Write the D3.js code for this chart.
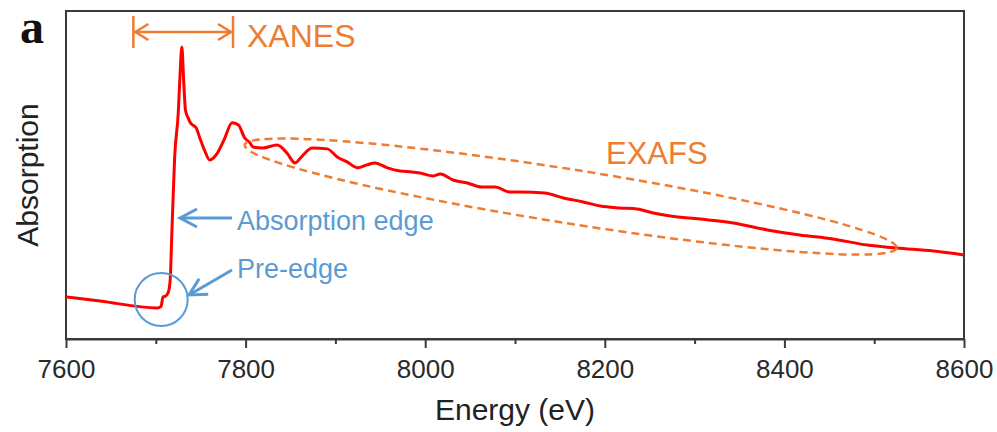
<!DOCTYPE html>
<html>
<head>
<meta charset="utf-8">
<script src="https://cdn.jsdelivr.net/npm/d3@7"></script>
<style>
  body { margin: 0; background: #fff; }
  svg { display: block; font-family: "Liberation Sans", Arial, sans-serif; }
</style>
</head>
<body>
<svg id="chart" width="997" height="432"></svg>
<script>
// X-ray absorption spectrum (energy in eV, normalised absorption)
const energy = [7600, 7638, 7701, 7705, 7706, 7708, 7711, 7714, 7716, 7718, 7721, 7725, 7727, 7729,
  7731, 7733, 7736, 7738, 7741, 7745, 7749, 7755, 7760, 7768, 7776, 7785, 7792, 7799, 7805, 7808,
  7819, 7835, 7846, 7855, 7864, 7874, 7891, 7902, 7913, 7925, 7935, 7944, 7958, 7972, 7985, 7994,
  8009, 8017, 8031, 8047, 8063, 8078, 8094, 8106, 8133, 8154, 8176, 8195, 8217, 8236, 8254, 8273,
  8306, 8343, 8381, 8417, 8454, 8492, 8525, 8566, 8600];
const absorption = [0.288, 0.261, 0.214, 0.221, 0.227, 0.288, 0.294, 0.321, 0.401, 0.736, 1.224, 1.518, 1.773, 1.960,
  1.739, 1.538, 1.485, 1.458, 1.438, 1.418, 1.351, 1.258, 1.204, 1.244, 1.338, 1.452, 1.438, 1.351, 1.318, 1.291,
  1.284, 1.304, 1.251, 1.184, 1.237, 1.284, 1.278, 1.224, 1.191, 1.151, 1.171, 1.184, 1.151, 1.130, 1.124, 1.117,
  1.097, 1.110, 1.070, 1.050, 1.023, 1.023, 0.990, 0.990, 0.983, 0.950, 0.923, 0.896, 0.883, 0.876, 0.849, 0.829,
  0.809, 0.783, 0.736, 0.702, 0.676, 0.635, 0.615, 0.595, 0.569];

const majorTicks = [7600, 7800, 8000, 8200, 8400, 8600];
const minorTicks = [7700, 7900, 8100, 8300, 8500];

// Annotation anchors in data units
const xanesRange = [7675, 7786];
const exafsEnds = [[7799, 1.304], [8525, 0.615]];
const preEdgeCenter = [7706, 0.271];

const ORANGE = "#ED7D31";
const BLUE = "#5B9BD5";

const svg = d3.select("#chart");
const plotL = 66, plotR = 964, plotT = 11, plotB = 339;

const x = d3.scaleLinear().domain([7600, 8600]).range([plotL, plotR]);
const y = d3.scaleLinear().domain([0, 2.2]).range([340, plotT]);

// Frame
svg.append("rect")
  .attr("x", plotL).attr("y", plotT)
  .attr("width", plotR - plotL).attr("height", plotB - plotT)
  .attr("fill", "none").attr("stroke", "#3a3a3a").attr("stroke-width", 2);

// Bottom axis: major ticks with labels, minor ticks without
const axisG = svg.append("g").attr("transform", `translate(0,${plotB})`);
axisG.call(d3.axisBottom(x).tickValues(majorTicks).tickSize(9).tickSizeOuter(0).tickFormat(d3.format("d")))
  .call(g => g.attr("font-family", null).attr("font-size", null))
  .call(g => g.select(".domain").attr("stroke", "#3a3a3a").attr("stroke-width", 2))
  .call(g => g.selectAll(".tick line").attr("stroke", "#3a3a3a").attr("stroke-width", 2))
  .call(g => g.selectAll(".tick text")
    .style("font-size", "26px").attr("fill", "#2a2a2a").attr("dy", "0.71em").attr("y", 21));
svg.append("g").attr("transform", `translate(0,${plotB})`)
  .call(d3.axisBottom(x).tickValues(minorTicks).tickSize(5).tickFormat(""))
  .call(g => g.select(".domain").remove())
  .call(g => g.selectAll(".tick line").attr("stroke", "#3a3a3a").attr("stroke-width", 2));

// Axis titles
svg.append("text").attr("x", (plotL + plotR) / 2).attr("y", 420)
  .attr("text-anchor", "middle").style("font-size", "30px").attr("fill", "#222")
  .text("Energy (eV)");
svg.append("text").attr("transform", `translate(38,${(plotT + plotB) / 2}) rotate(-90)`)
  .attr("text-anchor", "middle").style("font-size", "30px").attr("fill", "#222")
  .text("Absorption");

// Panel letter
svg.append("text").attr("x", 20).attr("y", 43)
  .style("font-family", "'Liberation Serif', 'Times New Roman', serif")
  .style("font-weight", "bold").style("font-size", "48px").attr("fill", "#111")
  .text("a");

// Spectrum
const data = energy.map((e, i) => [e, absorption[i]]);
svg.append("path").datum(data)
  .attr("fill", "none").attr("stroke", "#ff0000").attr("stroke-width", 3)
  .attr("stroke-linejoin", "round")
  .attr("d", d3.line().x(d => x(d[0])).y(d => y(d[1])).curve(d3.curveMonotoneX));

// Chevron arrow head: tip at (tx,ty), pointing along angle (radians)
function chevron(g, tx, ty, ang, len, half, color, w) {
  const bx = tx - Math.cos(ang) * len, by = ty - Math.sin(ang) * len;
  const px = -Math.sin(ang) * half, py = Math.cos(ang) * half;
  g.append("polyline")
    .attr("points", `${bx + px},${by + py} ${tx},${ty} ${bx - px},${by - py}`)
    .attr("fill", "none").attr("stroke", color).attr("stroke-width", w)
    .attr("stroke-linecap", "butt").attr("stroke-linejoin", "miter");
}

// XANES range marker
const ann = svg.append("g");
const xa0 = x(xanesRange[0]), xa1 = x(xanesRange[1]), ya = 32;
ann.append("line").attr("x1", xa0).attr("x2", xa1).attr("y1", ya).attr("y2", ya)
  .attr("stroke", ORANGE).attr("stroke-width", 2.5);
[xa0, xa1].forEach(xx => ann.append("line").attr("x1", xx).attr("x2", xx)
  .attr("y1", 16).attr("y2", 48).attr("stroke", ORANGE).attr("stroke-width", 2.5));
chevron(ann, xa0 + 2, ya, Math.PI, 13, 8, ORANGE, 2.5);
chevron(ann, xa1 - 2, ya, 0, 13, 8, ORANGE, 2.5);
ann.append("text").attr("x", xa1 + 14).attr("y", 47)
  .style("font-size", "32px").attr("fill", ORANGE).text("XANES");

// EXAFS region
const p0 = [x(exafsEnds[0][0]), y(exafsEnds[0][1])];
const p1 = [x(exafsEnds[1][0]), y(exafsEnds[1][1])];
const ecx = (p0[0] + p1[0]) / 2, ecy = (p0[1] + p1[1]) / 2;
const erx = Math.hypot(p1[0] - p0[0], p1[1] - p0[1]) / 2;
const angDeg = Math.atan2(p1[1] - p0[1], p1[0] - p0[0]) * 180 / Math.PI;
ann.append("ellipse")
  .attr("cx", 0).attr("cy", 0).attr("rx", erx).attr("ry", 27)
  .attr("transform", `translate(${ecx},${ecy}) rotate(${angDeg})`)
  .attr("fill", "none").attr("stroke", ORANGE).attr("stroke-width", 2.5)
  .attr("stroke-dasharray", "8 5");
ann.append("text").attr("x", 606).attr("y", 164)
  .style("font-size", "31px").attr("fill", ORANGE).text("EXAFS");

// Absorption edge arrow
const ey = 218, etip = 180;
ann.append("line").attr("x1", 232).attr("x2", etip + 2).attr("y1", ey).attr("y2", ey)
  .attr("stroke", BLUE).attr("stroke-width", 3);
chevron(ann, etip, ey, Math.PI, 17, 9, BLUE, 3);
ann.append("text").attr("x", 237).attr("y", 230)
  .style("font-size", "27px").attr("fill", BLUE).text("Absorption edge");

// Pre-edge circle and arrow
ann.append("circle").attr("cx", x(preEdgeCenter[0])).attr("cy", y(preEdgeCenter[1])).attr("r", 26.5)
  .attr("fill", "none").attr("stroke", BLUE).attr("stroke-width", 2);
const a0 = [232, 270], a1 = [189, 295];
const pang = Math.atan2(a1[1] - a0[1], a1[0] - a0[0]);
ann.append("line").attr("x1", a0[0]).attr("y1", a0[1])
  .attr("x2", a1[0] - Math.cos(pang) * 2).attr("y2", a1[1] - Math.sin(pang) * 2)
  .attr("stroke", BLUE).attr("stroke-width", 3);
chevron(ann, a1[0], a1[1], pang, 17, 9, BLUE, 3);
ann.append("text").attr("x", 237).attr("y", 278)
  .style("font-size", "27px").attr("fill", BLUE).text("Pre-edge");
</script>
</body>
</html>
